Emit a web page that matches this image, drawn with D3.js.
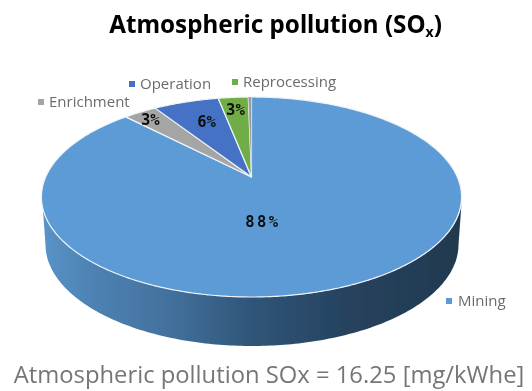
<!DOCTYPE html>
<html><head><meta charset="utf-8">
<script src="https://cdn.jsdelivr.net/npm/d3@7"></script>
<style>html,body{margin:0;padding:0;background:#fff}svg{display:block}</style></head>
<body><div id="c"></div>
<script>
const categories = ["Mining","Enrichment","Operation","Reprocessing","Other"];
const shares = [87.7,3.1,6.1,2.8,0.3];
const labelTexts = ["88%","3%","6%","3%",""];
const legendNames = ["Mining","Enrichment","Operation","Reprocessing"];
const colors = ["#5b9bd5","#a5a5a5","#4472c4","#70ad47","#9a9a9a"];
const titleMain = "Atmospheric pollution (SO", titleSub = "x", titleEnd = ")";
const footnote = "Atmospheric pollution SOx = 16.25 [mg/kWhe]";

const W=532,H=391;
const svg=d3.select("#c").append("svg").attr("width",W).attr("height",H).attr("viewBox",[0,0,W,H]);
const defs=svg.append("defs");
defs.append("filter").attr("id","soft").attr("x","-5%").attr("y","-5%").attr("width","110%").attr("height","110%")
  .append("feGaussianBlur").attr("stdDeviation",0.4);
const grad=defs.append("linearGradient").attr("id","wall").attr("gradientUnits","userSpaceOnUse")
  .attr("x1",42).attr("x2",462).attr("y1",0).attr("y2",0);
[[0,"#5a93c8"],[0.12,"#4d82b3"],[0.3,"#43719d"],[0.5,"#2f5578"],[0.72,"#26435f"],[1,"#22394f"]]
  .forEach(([o,c])=>grad.append("stop").attr("offset",o).attr("stop-color",c));

// perspective projection of the unit pie disc
const k=0.2, ax=205.8, by=96, ox=251.5, oy=177;
const project=(u,v)=>{const w=1-k*v;return [ox+ax*u/w, oy+by*v/w];};
const polar=(a,r)=>project(r*Math.sin(a),-r*Math.cos(a));
const line=d3.line();
const arcPts=(a0,a1)=>{const n=Math.max(2,Math.ceil(Math.abs(a1-a0)/0.01));
  return d3.range(n+1).map(i=>polar(a0+(a1-a0)*i/n,1));};

const root=svg.append("g").attr("filter","url(#soft)");

// side wall
const ecx=252,tcy=197,trx=210,tr=100, bcy=244.5,brx=206.5,br=101.5;
const wallTop=d3.range(0,181).map(d=>{const t=d*Math.PI/180;return [ecx+trx*Math.cos(t),tcy+tr*Math.sin(t)];});
const wallBot=d3.range(180,-1,-1).map(d=>{const t=d*Math.PI/180;return [ecx+brx*Math.cos(t),bcy+br*Math.sin(t)];});
root.append("path").attr("d",line(wallTop.concat(wallBot))+"Z").attr("fill","url(#wall)");

// top slices
const pie=d3.pie().sort(null).value(d=>d)(shares);
root.selectAll("path.slice").data(pie).join("path").attr("class","slice")
  .attr("d",d=>line([[ox,oy],...arcPts(d.startAngle,d.endAngle)])+"Z")
  .attr("fill",(d,i)=>colors[i]).attr("stroke","#eef3f8").attr("stroke-width",(d,i)=>i===4?0.3:1.2).attr("stroke-linejoin","round");

// data labels: placement along each slice
const labelPlace=[{a:3.02,r:0.42},{a:-0.68,r:0.89},{a:-0.36,r:0.70},{a:-0.11,r:0.83},{a:0,r:0}];
root.selectAll("text.val").data(pie.filter((d,i)=>labelTexts[i])).join("text").attr("class","val")
  .attr("x",(d)=>polar(labelPlace[d.index].a,labelPlace[d.index].r)[0])
  .attr("y",(d)=>polar(labelPlace[d.index].a,labelPlace[d.index].r)[1]+6)
  .attr("text-anchor","middle").attr("font-family","DejaVu Sans Mono").attr("font-weight","bold")
  .attr("font-size",15.5).attr("letter-spacing",d=>d.index===0?2.5:0).attr("fill","#0d0d0d")
  .text(d=>labelTexts[d.index]);

// legend
const legendPlace={Mining:[449,301],Enrichment:[41,102],Operation:[132,84],Reprocessing:[235,82]};
const lg=root.selectAll("g.lg").data(legendNames).join("g").attr("class","lg")
  .attr("transform",d=>`translate(${legendPlace[d]})`);
lg.append("rect").attr("x",-3).attr("y",-3).attr("width",6).attr("height",6)
  .attr("fill",d=>colors[categories.indexOf(d)]);
lg.append("text").attr("x",d=>d==="Mining"?9:8).attr("y",5).attr("font-family","Open Sans")
  .attr("font-size",15).attr("fill","#6b6b6b").text(d=>d);

// title
const t=root.append("text").attr("x",275.5).attr("y",33).attr("text-anchor","middle")
  .attr("font-family","Noto Sans").attr("font-weight","bold").attr("font-size",24.2).attr("fill","#000");
t.append("tspan").text(titleMain);
t.append("tspan").attr("font-size",14).attr("dy",4).text(titleSub);
t.append("tspan").attr("dy",-4).text(titleEnd);

// footnote
root.append("text").attr("x",269).attr("y",383).attr("text-anchor","middle")
  .attr("font-family","Open Sans").attr("font-size",23.8).attr("fill","#767676").text(footnote);
</script></body></html>
